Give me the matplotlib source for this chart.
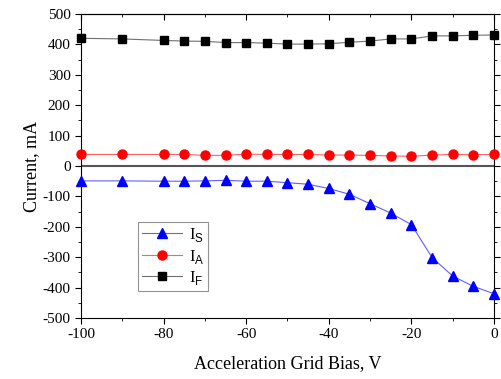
import matplotlib
matplotlib.use("Agg")
import matplotlib.pyplot as plt
from matplotlib.ticker import MultipleLocator

bias = [-100, -90, -80, -75, -70, -65, -60, -55, -50, -45, -40, -35, -30, -25, -20, -15, -10, -5, 0]
i_s = [-49, -49, -50, -50, -49, -47, -50, -50, -55, -60, -74, -93, -124, -155, -193, -301, -362, -396, -420]
i_a = [38, 38, 38, 38, 35, 35, 39, 38, 38, 38, 36, 36, 35, 33, 32, 36, 38, 37, 38]
i_f = [420, 418, 413, 411, 410, 406, 406, 404, 401, 401, 402, 407, 411, 418, 418, 428, 428, 430, 431]

plt.rcParams['font.family'] = ['Liberation Serif', 'DejaVu Serif']
plt.rcParams['axes.unicode_minus'] = False
plt.rcParams['mathtext.fontset'] = 'custom'
plt.rcParams['mathtext.sf'] = 'Liberation Sans'
plt.rcParams['mathtext.rm'] = 'Liberation Serif'

fig = plt.figure(figsize=(5.02, 3.79), dpi=100)
ax = fig.add_axes([81/502, 1-318/379, (494-81)/502, (318-14)/379])

ax.axhline(0, color='#555555', lw=1.5, zorder=1)
ax.plot(bias, i_s, color='#6060ff', lw=0.8, marker='^', ms=6.5, mfc='#0000ff', mec='#0000ff',
        label=r'I$_\mathsf{S}$', zorder=3, clip_on=False)
ax.plot(bias, i_a, color='#ff6060', lw=0.8, marker='o', ms=6.5, mfc='#ff0000', mec='#ff0000',
        label=r'I$_\mathsf{A}$', zorder=3, clip_on=False)
ax.plot(bias, i_f, color='#707070', lw=0.8, marker='s', ms=5.5, mfc='black', mec='black',
        label=r'I$_\mathsf{F}$', zorder=3, clip_on=False)

ax.set_xlim(-100, 0)
ax.set_ylim(-500, 500)
ax.xaxis.set_major_locator(MultipleLocator(20))
ax.xaxis.set_minor_locator(MultipleLocator(10))
ax.yaxis.set_major_locator(MultipleLocator(100))
ax.yaxis.set_minor_locator(MultipleLocator(50))

ax.tick_params(axis='both', which='both', direction='out', labelsize=11)
ax.tick_params(which='major', length=4)
ax.tick_params(which='minor', length=2.5)
ax.tick_params(axis='y', which='both', right=True)

ax2 = ax.secondary_xaxis('top')
ax2.xaxis.set_major_locator(MultipleLocator(20))
ax2.xaxis.set_minor_locator(MultipleLocator(10))
ax2.tick_params(axis='x', which='both', direction='in', labeltop=False)
ax2.tick_params(which='major', length=4)
ax2.tick_params(which='minor', length=2.5)

ax.set_xlabel('Acceleration Grid Bias, V', fontsize=13, labelpad=10)
ax.set_ylabel('Current, mA', fontsize=13, labelpad=2)

leg = ax.legend(loc='upper left', bbox_to_anchor=((138-81)/413, (318-222)/304), fontsize=12,
                frameon=True, fancybox=False, edgecolor='#777777', handlelength=2.4,
                borderpad=0.25, labelspacing=0.2, handletextpad=0.4, borderaxespad=0)
leg.get_frame().set_linewidth(0.8)

fig.savefig('out.png', dpi=100)
